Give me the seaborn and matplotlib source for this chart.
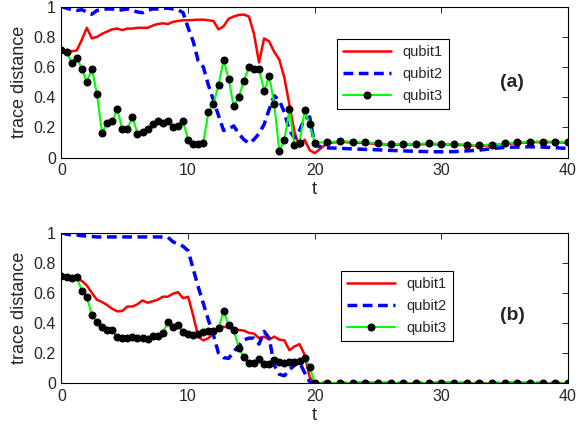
import numpy as np
import pandas as pd
import matplotlib
matplotlib.use('Agg')
import matplotlib.pyplot as plt
import seaborn as sns

# time grid: step 0.4 up to t=20, then step 1 up to t=40
t = np.round(np.concatenate([np.arange(0, 20.2, 0.4), np.arange(21, 41)]), 1)

# panel (a)
qubit1_a = [0.71, 0.71, 0.705, 0.71, 0.78, 0.86, 0.79, 0.80, 0.82, 0.835,
            0.85, 0.855, 0.845, 0.855, 0.855, 0.86, 0.86, 0.86, 0.875, 0.885,
            0.89, 0.885, 0.90, 0.905, 0.91, 0.91, 0.912, 0.914, 0.914, 0.91,
            0.905, 0.85, 0.87, 0.92, 0.935, 0.945, 0.948, 0.935, 0.82, 0.63,
            0.79, 0.77, 0.70, 0.65, 0.53, 0.35, 0.17, 0.07, 0.12, 0.05,
            0.03,
            0.097, 0.105, 0.10, 0.097, 0.09, 0.086, 0.086, 0.088, 0.09, 0.088,
            0.086, 0.083, 0.079, 0.083, 0.09, 0.097, 0.103, 0.103, 0.103, 0.099]
qubit2_a = [1.0, 0.99, 0.98, 0.975, 0.98, 0.965, 0.95, 0.975, 0.98, 0.985,
            0.985, 0.975, 0.98, 0.985, 0.975, 0.965, 0.96, 0.975, 0.985, 0.985,
            0.99, 0.99, 0.985, 0.98, 0.96, 0.86, 0.77, 0.64, 0.60, 0.48,
            0.38, 0.28, 0.18, 0.19, 0.21, 0.16, 0.12, 0.095, 0.12, 0.16,
            0.22, 0.32, 0.41, 0.38, 0.30, 0.18, 0.13, 0.18, 0.26, 0.27,
            0.08,
            0.065, 0.062, 0.058, 0.055, 0.052, 0.048, 0.045, 0.042, 0.04, 0.039,
            0.04, 0.045, 0.05, 0.06, 0.068, 0.07, 0.072, 0.07, 0.066, 0.061]
qubit3_a = [0.71, 0.70, 0.63, 0.66, 0.59, 0.50, 0.59, 0.42, 0.165, 0.23,
            0.24, 0.32, 0.19, 0.19, 0.27, 0.16, 0.17, 0.19, 0.22, 0.245,
            0.23, 0.24, 0.20, 0.21, 0.24, 0.116, 0.088, 0.09, 0.10, 0.30,
            0.355, 0.48, 0.65, 0.52, 0.34, 0.40, 0.51, 0.60, 0.59, 0.59,
            0.44, 0.54, 0.355, 0.043, 0.116, 0.32, 0.083, 0.10, 0.315, 0.22,
            0.10,
            0.101, 0.110, 0.105, 0.101, 0.094, 0.09, 0.09, 0.092, 0.094, 0.092,
            0.09, 0.087, 0.083, 0.087, 0.094, 0.101, 0.107, 0.107, 0.107, 0.103]

# panel (b)
qubit1_b = [0.71, 0.71, 0.705, 0.70, 0.68, 0.65, 0.60, 0.555, 0.54, 0.52,
            0.495, 0.478, 0.48, 0.51, 0.51, 0.525, 0.55, 0.535, 0.545, 0.555,
            0.575, 0.575, 0.595, 0.605, 0.565, 0.575, 0.45, 0.31, 0.285, 0.30,
            0.33, 0.365, 0.376, 0.37, 0.36, 0.354, 0.35, 0.335, 0.33, 0.30,
            0.31, 0.29, 0.31, 0.29, 0.285, 0.22, 0.245, 0.26, 0.19, 0.04,
            0.0,
            0.0, 0.0, 0.0, 0.0, 0.0, 0.0, 0.0, 0.0, 0.0, 0.0,
            0.0, 0.0, 0.0, 0.0, 0.0, 0.0, 0.0, 0.0, 0.0, 0.0]
qubit2_b = [1.0, 0.99, 0.985, 0.985, 0.98, 0.978, 0.975, 0.972, 0.972, 0.972,
            0.972, 0.972, 0.972, 0.972, 0.972, 0.972, 0.972, 0.972, 0.972, 0.972,
            0.972, 0.97, 0.94, 0.925, 0.91, 0.88, 0.76, 0.64, 0.53, 0.42,
            0.32, 0.20, 0.17, 0.166, 0.21, 0.25, 0.288, 0.30, 0.30, 0.26,
            0.345, 0.30, 0.12, 0.06, 0.05, 0.09, 0.12, 0.14, 0.07, 0.01,
            0.0,
            0.0, 0.0, 0.0, 0.0, 0.0, 0.0, 0.0, 0.0, 0.0, 0.0,
            0.0, 0.0, 0.0, 0.0, 0.0, 0.0, 0.0, 0.0, 0.0, 0.0]
qubit3_b = [0.712, 0.708, 0.697, 0.704, 0.615, 0.571, 0.454, 0.405, 0.372, 0.354,
            0.354, 0.305, 0.303, 0.303, 0.31, 0.303, 0.299, 0.294, 0.314, 0.316,
            0.336, 0.405, 0.376, 0.387, 0.343, 0.325, 0.32, 0.325, 0.343, 0.347,
            0.347, 0.365, 0.48, 0.387, 0.354, 0.237, 0.172, 0.133, 0.137, 0.159,
            0.128, 0.126, 0.155, 0.144, 0.137, 0.14, 0.144, 0.148, 0.166, 0.11,
            0.0,
            0.0, 0.0, 0.0, 0.0, 0.0, 0.0, 0.0, 0.0, 0.0, 0.0,
            0.0, 0.0, 0.0, 0.0, 0.0, 0.0, 0.0, 0.0, 0.0, 0.0]

panels = [("(a)", qubit1_a, qubit2_a, qubit3_a),
          ("(b)", qubit1_b, qubit2_b, qubit3_b)]

sns.set_style("white")
plt.rcParams['font.family'] = ['Liberation Sans', 'DejaVu Sans']
plt.rcParams['xtick.direction'] = 'in'
plt.rcParams['ytick.direction'] = 'in'

fig = plt.figure(figsize=(5.78, 4.32), dpi=100)
axes = [fig.add_axes([0.1064, 0.635, 0.8763, 0.3495]),
        fig.add_axes([0.1064, 0.1127, 0.8763, 0.3486])]
legend_pos = [(0.544, 0.786), (0.552, 0.746)]
tag_y = [0.5, 0.45]

for ax, (tag, q1, q2, q3), lp, ty in zip(axes, panels, legend_pos, tag_y):
    df = pd.DataFrame({"t": t, "qubit1": q1, "qubit2": q2, "qubit3": q3})
    sns.lineplot(data=df, x="t", y="qubit1", ax=ax, color="red",
                 linewidth=1.8, label="qubit1")
    sns.lineplot(data=df, x="t", y="qubit2", ax=ax, color="blue",
                 linewidth=2.5, linestyle="--", label="qubit2")
    ax.lines[-1].set_dashes([2.8, 1.6])
    sns.lineplot(data=df, x="t", y="qubit3", ax=ax, color="#00ff00",
                 linewidth=1.5, marker="o", markersize=5,
                 markerfacecolor="black", markeredgecolor="black",
                 label="qubit3")

    ax.set_xlim(0, 40)
    ax.set_ylim(0, 1)
    ax.set_xticks([0, 10, 20, 30, 40])
    ax.set_yticks([0, 0.2, 0.4, 0.6, 0.8, 1.0])
    ax.set_yticklabels(["0", "0.2", "0.4", "0.6", "0.8", "1"])
    ax.tick_params(axis='both', which='major', labelsize=11.5, length=4,
                   width=0.7, top=True, right=True, pad=4)
    for s in ax.spines.values():
        s.set_visible(True)
        s.set_color("black")
        s.set_linewidth(0.8)
    ax.set_xlabel("t", fontsize=13.5, labelpad=2)
    ax.set_ylabel("trace distance", fontsize=13, labelpad=4)
    ax.text(35.6, ty, tag, fontsize=14, fontweight="bold",
            ha="center", va="center")
    leg = ax.legend(loc="upper left", bbox_to_anchor=lp, borderaxespad=0,
                    fontsize=10.5, handlelength=3.3, labelspacing=0.55,
                    fancybox=False, framealpha=1, edgecolor="black")
    leg.get_frame().set_linewidth(0.8)

fig.savefig("out.png", dpi=100)
